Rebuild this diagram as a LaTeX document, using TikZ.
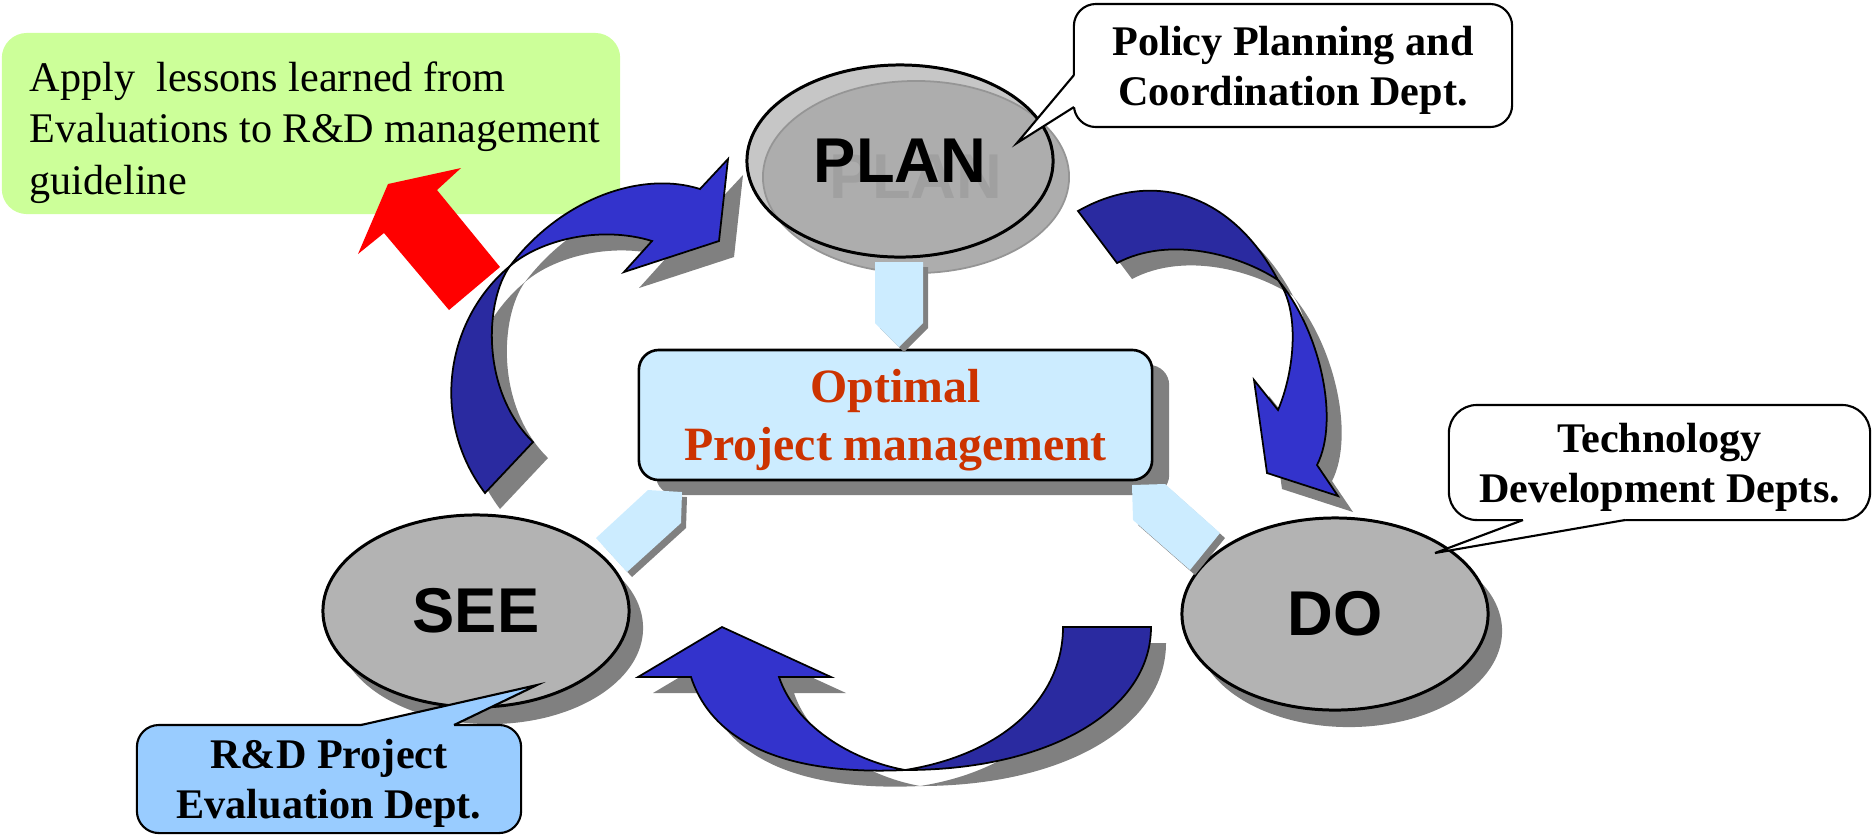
\documentclass[tikz,border=0pt]{standalone}
\usepackage{fontspec}
\setmainfont{Liberation Serif}
\setsansfont{Liberation Sans}
\usetikzlibrary{shapes.geometric,shadows}

\definecolor{ovalgray}{HTML}{B3B3B3}
\definecolor{shadowgray}{HTML}{808080}
\definecolor{planlight}{HTML}{C6C6C6}
\definecolor{planmid}{HTML}{ADADAD}
\definecolor{planrim}{HTML}{959595}
\definecolor{planghost}{HTML}{A0A0A0}
\definecolor{paleblue}{HTML}{CCECFF}
\definecolor{skyblue}{HTML}{99CCFF}
\definecolor{limegreen}{HTML}{CCFF99}
\definecolor{arrowblue}{HTML}{3333CC}
\definecolor{arrowdark}{HTML}{2A2AA0}
\definecolor{rusttext}{HTML}{CC3300}

% outlines of the three curved arrows
\newcommand{\leftTail}{(485,493) .. controls (430,420) and (445,320) .. (510,266) .. controls (485,300) and (480,390) .. (533,442) -- cycle}
\newcommand{\leftFace}{(510,266) .. controls (560,200) and (640,170) .. (700,189) -- (728,159) -- (719,241) -- (624,272) -- (652,241) .. controls (600,225) and (540,240) .. (510,266) -- cycle}
\newcommand{\rightTail}{(1078,211) .. controls (1150,170) and (1230,190) .. (1278,280) .. controls (1240,255) and (1170,235) .. (1117,263) -- cycle}
\newcommand{\rightFace}{(1278,280) .. controls (1320,330) and (1340,420) .. (1317,465) -- (1338,496) -- (1267,473) -- (1254,380) -- (1278,410) .. controls (1295,370) and (1300,310) .. (1278,280) -- cycle}
\newcommand{\lowTail}{(1063,627) -- (1151,627) .. controls (1151,710) and (1050,770) .. (905,770) .. controls (1000,755) and (1063,700) .. (1063,627) -- cycle}
\newcommand{\lowFace}{(905,770) .. controls (800,775) and (715,750) .. (691,677) -- (638,677) -- (722,627) -- (831,677) -- (779,677) .. controls (795,725) and (850,760) .. (905,770) -- cycle}

\begin{document}
\begin{tikzpicture}[x=0.01cm,y=-0.01cm,
  phase/.style={ellipse,draw,line width=0.85pt,fill=ovalgray,minimum width=3.06cm,minimum height=1.92cm,inner sep=0pt,font=\sffamily\bfseries\fontsize{18}{20}\selectfont},
  ovalshadow/.style={drop shadow={shadow xshift=0.14cm,shadow yshift=-0.17cm,fill=shadowgray,opacity=1}},
  deptbox/.style={draw,line width=0.6pt,fill=white,rounded corners=0.22cm,align=center,inner sep=0pt,text depth=0pt,font=\bfseries\fontsize{12}{14.2}\selectfont},
  optbox/.style={draw,line width=0.75pt,fill=paleblue,rounded corners=0.2cm,minimum width=5.13cm,minimum height=1.3cm,align=center,text depth=0pt,text=rusttext,font=\bfseries\fontsize{13.6}{16.4}\selectfont,drop shadow={shadow xshift=0.17cm,shadow yshift=-0.15cm,fill=shadowgray,opacity=1}},
  arcshade/.style={fill=shadowgray,shift={(15,16)}},
  arcback/.style={draw,line width=0.5pt,fill=arrowdark},
  arcface/.style={draw,line width=0.5pt,fill=arrowblue},
  paleshade/.style={fill=shadowgray,shift={(5,5)}}]
\useasboundingbox (0,0) rectangle (1873,835);

% lessons learned box and red arrow
\node[fill=limegreen,rounded corners=0.25cm,minimum width=6.18cm,minimum height=1.81cm] (lessons) at (311,123.5) {};
\node[anchor=north west,inner sep=0pt,align=left,font=\fontsize{12}{14.65}\selectfont] (lessonstext) at (29,61) {Apply~ lessons learned from\\Evaluations to R\&D management\\guideline};
\fill[red] (461,168) -- (388,184) -- (358,254) -- (384,233) -- (449,310) -- (500,267) -- (437,190) -- cycle;

% curved arrows of the cycle
\foreach \part in {\leftTail,\leftFace,\rightTail,\rightFace,\lowTail,\lowFace}
  \fill[arcshade] \part;
\foreach \part/\look in {\leftTail/arcback,\leftFace/arcface,\rightTail/arcback,\rightFace/arcface,\lowTail/arcback,\lowFace/arcface}
  \draw[\look] \part;

% PLAN, DO, SEE
\node[phase,draw=none,fill=planlight] (planbase) at (900,161) {};
\node[phase,draw=planrim,line width=0.5pt,fill=planmid] (planshade) at (916,177) {};
\node[phase,draw=none,fill=none,text=planghost] (planghost) at (916,177) {PLAN};
\node[phase,fill=none] (plan) at (900,161) {PLAN};
\node[phase,ovalshadow] (see) at (476,611) {SEE};
\node[phase,ovalshadow] (do) at (1335,614) {DO};

% centre
\node[optbox] (optimal) at (895.5,415) {Optimal\\Project management};
\foreach \poly in {{(875,262) -- (923,262) -- (923,323) -- (899,347) -- (875,323)},
                   {(682,492) -- (648,490) -- (596,538) -- (627,572) -- (681,523)},
                   {(1132,485) -- (1165,484) -- (1220,533) -- (1190,570) -- (1133,520)}}{
  \fill[paleshade] \poly -- cycle;
  \fill[paleblue] \poly -- cycle;
}

% departments
\node[deptbox,minimum width=4.38cm,minimum height=1.23cm] (policy) at (1293,65.5) {Policy Planning and\\Coordination Dept.};
\coordinate (policytip) at (1017,143);
\fill[white] (1074,75) -- (policytip) -- (1074,107) -- (1078,107) -- (1078,75) -- cycle;
\draw[line width=0.6pt] (1074,75) -- (policytip) -- (1074,107);

\node[deptbox,minimum width=4.21cm,minimum height=1.15cm,rounded corners=0.28cm] (techdev) at (1659.5,462.5) {Technology\\Development Depts.};
\coordinate (techtip) at (1435,553);
\fill[white] (1523,520) -- (techtip) -- (1625,520) -- (1625,516) -- (1523,516) -- cycle;
\draw[line width=0.6pt] (1523,520) -- (techtip) -- (1625,520);

\node[deptbox,fill=skyblue,minimum width=3.84cm,minimum height=1.08cm] (evaldept) at (329,779) {R\&D Project\\Evaluation Dept.};
\coordinate (evaltip) at (537,685);
\fill[skyblue] (361,725) -- (evaltip) -- (454,725) -- (454,729) -- (361,729) -- cycle;
\draw[line width=0.6pt] (361,725) -- (evaltip) -- (454,725);
\end{tikzpicture}
\end{document}
